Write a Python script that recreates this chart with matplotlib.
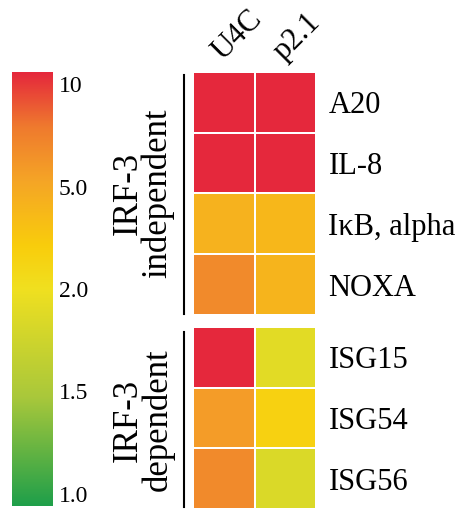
import numpy as np
import matplotlib
matplotlib.use("Agg")
import matplotlib.pyplot as plt
from matplotlib.colors import LinearSegmentedColormap

# Datos (veces de inducción)
columnas = ["U4C", "p2.1"]
genes_indep = ["A20", "IL-8", "IκB, alpha", "NOXA"]
genes_dep = ["ISG15", "ISG54", "ISG56"]
valores_indep = [[10, 10], [10, 10], [4.4, 4.2], [6.5, 4.3]]
valores_dep = [[10, 1.9], [5.5, 2.9], [6.5, 1.85]]
escala_ticks = [1.0, 1.5, 2.0, 5.0, 10]
escala_labels = ["1.0", "1.5", "2.0", "5.0", "10"]

# Colormap con escala no lineal (ticks equiespaciados)
cmap = LinearSegmentedColormap.from_list("verde_rojo", [
    (0.0, "#1f9f4a"), (0.25, "#a9c83b"), (0.5, "#f0e020"),
    (0.6, "#f9cd0c"), (0.75, "#f5a526"), (0.875, "#ef7a2e"),
    (1.0, "#e5283c")])
pos_ticks = np.arange(len(escala_ticks))


def a_posicion(v):
    return np.interp(v, escala_ticks, pos_ticks)


serif = "Liberation Serif"
W, H = 463, 511
fig = plt.figure(figsize=(W / 100, H / 100), dpi=100)


def caja(x0, y0, x1, y1):
    return [x0 / W, 1 - y1 / H, (x1 - x0) / W, (y1 - y0) / H]


def bloque(rect, datos, genes):
    ax = fig.add_axes(rect)
    z = a_posicion(np.array(datos))
    ax.pcolormesh(z, cmap=cmap, vmin=0, vmax=4, edgecolors="white",
                  linewidth=1.2)
    ax.set_xlim(0, 2)
    ax.set_ylim(len(genes), 0)
    ax.set_xticks([])
    ax.set_yticks(np.arange(len(genes)) + 0.5)
    ax.set_yticklabels(genes, family=serif, fontsize=22)
    ax.yaxis.tick_right()
    ax.tick_params(axis="y", length=0, pad=9)
    for s in ax.spines.values():
        s.set_visible(False)
    return ax


ax1 = bloque(caja(193, 72, 316, 315), valores_indep, genes_indep)
ax2 = bloque(caja(193, 327, 316, 509), valores_dep, genes_dep)

# Etiquetas de columnas
for i, c in enumerate(columnas):
    ax1.text(i + 0.55, -0.1, c, rotation=45, ha="left", va="bottom",
             rotation_mode="anchor", family=serif, fontsize=22)

# Líneas y etiquetas de grupo
fig.add_artist(plt.Line2D([184 / W, 184 / W], [1 - 75 / H, 1 - 314 / H],
                          color="black", lw=1.5))
fig.add_artist(plt.Line2D([184 / W, 184 / W], [1 - 332 / H, 1 - 507 / H],
                          color="black", lw=1.5))
fig.text(143 / W, 1 - 193 / H, "IRF-3\nindependent", rotation=90,
         ha="center", va="center", family=serif, fontsize=25,
         linespacing=0.85, multialignment="center")
fig.text(143 / W, 1 - 420 / H, "IRF-3\ndependent", rotation=90,
         ha="center", va="center", family=serif, fontsize=25,
         linespacing=0.85, multialignment="center")

# Barra de color
cax = fig.add_axes(caja(12, 72, 53, 506))
grad = np.linspace(0, 4, 256).reshape(-1, 1)
cax.imshow(grad, cmap=cmap, vmin=0, vmax=4, aspect="auto", origin="lower",
           extent=[0, 1, -0.12, 4.12])
cax.set_ylim(-0.12, 4.12)
cax.set_xticks([])
cax.set_yticks(pos_ticks)
cax.set_yticklabels(escala_labels, family=serif, fontsize=17)
cax.yaxis.tick_right()
cax.tick_params(axis="y", length=0, pad=4)
for s in cax.spines.values():
    s.set_visible(False)

fig.savefig("out.png", dpi=100)
